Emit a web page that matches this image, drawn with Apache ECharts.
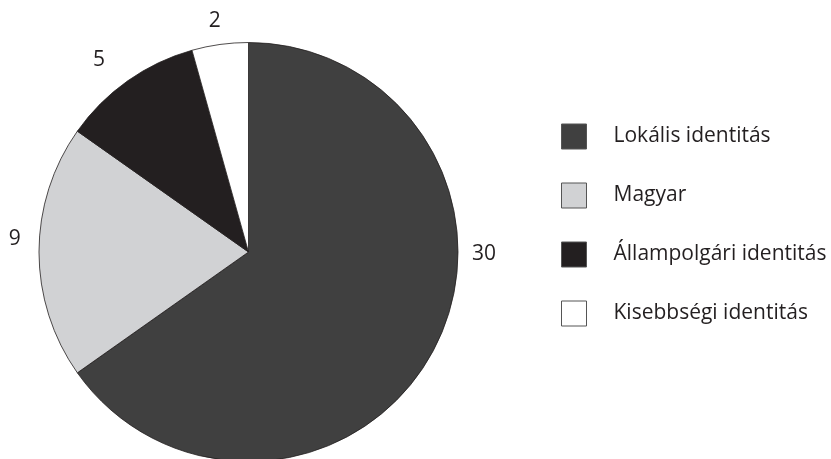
<!DOCTYPE html>
<html>
<head>
<meta charset="utf-8">
<script src="https://cdn.jsdelivr.net/npm/echarts@6/dist/echarts.min.js"></script>
<style>
  html, body { margin: 0; padding: 0; background: #ffffff; }
  #chart { width: 831px; height: 459px; }
</style>
</head>
<body>
<div id="chart"></div>
<script>
// ---- data ----
var categories = ['Lokális identitás', 'Magyar', 'Állampolgári identitás', 'Kisebbségi identitás'];
var values = [30, 9, 5, 2];
var colors = ['#404040', '#d1d2d4', '#231f20', '#ffffff'];

// ---- layout / style ----
var CX = 248.5, CY = 252, R = 209.5;
var FONT = '"Open Sans", "Noto Sans", sans-serif';
// where the value labels sit (degrees clockwise from 12 o'clock) and their distance from centre
var labelAngles = [90.5, 273.2, 322, 351.7];
var labelDist = [235.5, 234, 243, 233];

var chart = echarts.init(document.getElementById('chart'), null, { renderer: 'canvas' });

var data = categories.map(function (c, i) {
  return { name: c, value: values[i], itemStyle: { color: colors[i] } };
});

var option = {
  backgroundColor: '#ffffff',
  animation: false,
  legend: {
    orient: 'vertical',
    left: 556,
    top: 118.5,
    itemWidth: 25,
    itemHeight: 25,
    itemGap: 33,
    icon: 'rect',
    data: categories,
    textStyle: {
      fontFamily: FONT,
      fontSize: 21,
      color: '#231f20',
      padding: [9, 0, 0, 22]
    },
    itemStyle: { borderColor: '#555555', borderWidth: 1 }
  },
  series: [{
    type: 'pie',
    center: [CX, CY],
    radius: [0, R],
    startAngle: 90,
    clockwise: true,
    avoidLabelOverlap: false,
    data: data,
    itemStyle: { borderColor: '#231f20', borderWidth: 0.8 },
    emphasis: { disabled: true },
    label: {
      show: true,
      position: 'outside',
      formatter: '{c}',
      fontFamily: FONT,
      fontSize: 21,
      color: '#231f20'
    },
    labelLine: { show: false },
    labelLayout: function (params) {
      var i = params.dataIndex;
      var a = labelAngles[i] * Math.PI / 180;
      var d = labelDist[i];
      return {
        x: CX + d * Math.sin(a),
        y: CY - d * Math.cos(a),
        align: 'center',
        verticalAlign: 'middle'
      };
    }
  }]
};
chart.setOption(option);
</script>
</body>
</html>
